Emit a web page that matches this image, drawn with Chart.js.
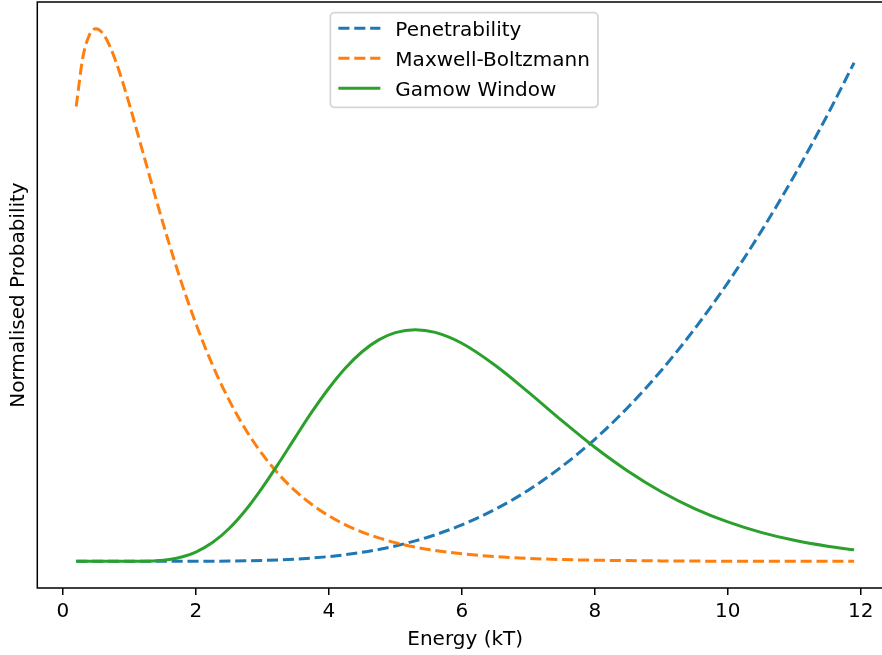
<!DOCTYPE html>
<html>
<head>
<meta charset="utf-8">
<title>Gamow Window</title>
<script src="https://cdn.jsdelivr.net/npm/chart.js@4"></script>
<style>
    html, body { margin: 0; padding: 0; background: #fff; overflow: hidden; }
    canvas { display: block; }
</style>
</head>
<body>
<canvas id="gamowChart" width="901" height="655"></canvas>
<script>
// Energy grid (kT) and the three normalised curves sampled on it
const energy = [0.2, 0.3, 0.4, 0.5, 0.6, 0.7, 0.8, 0.9, 1.0, 1.2, 1.4, 1.6, 1.8, 2.0, 2.25, 2.5, 2.75,
    3.0, 3.25, 3.5, 3.75, 4.0, 4.25, 4.5, 4.75, 5.0, 5.3, 5.6, 6.0, 6.5, 7.0, 7.5, 8.0, 8.5, 9.0, 9.5,
    10.0, 10.5, 11.0, 11.5, 11.9];

const penetrability = [0, 0, 0, 0, 0, 0, 0, 0, 0, 0, 0.000003, 0.000015, 0.00004, 0.000093, 0.000227,
    0.000483, 0.000925, 0.00163, 0.00269, 0.0042, 0.00627, 0.00901, 0.01252, 0.01695, 0.0224, 0.02895,
    0.03844, 0.04983, 0.0685, 0.0976, 0.1336, 0.1776, 0.2292, 0.2894, 0.3584, 0.4362, 0.5229, 0.6189,
    0.724, 0.8383, 0.936];

const maxwellBoltzmann = [0.8538, 0.9461, 0.9885, 1.0, 0.9912, 0.9687, 0.9371, 0.8993, 0.8578, 0.7693,
    0.6804, 0.5955, 0.5171, 0.4463, 0.3686, 0.3026, 0.2472, 0.2011, 0.163, 0.1317, 0.1062, 0.0854,
    0.0686, 0.055, 0.044, 0.0351, 0.0268, 0.0204, 0.0142, 0.0089, 0.0056, 0.0035, 0.0022, 0.0014,
    0.0009, 0.0005, 0.0003, 0.0002, 0.0001, 0.0001, 0.0001];

const gamowWindow = [0, 0, 0, 0, 0, 0, 0, 0, 0.00005, 0.00032, 0.00126, 0.00369, 0.00869, 0.01747,
    0.03528, 0.0617, 0.0965, 0.1385, 0.1851, 0.2338, 0.2814, 0.325, 0.363, 0.3935, 0.4157, 0.4294,
    0.435, 0.4298, 0.4094, 0.3681, 0.3177, 0.2647, 0.2142, 0.1692, 0.1307, 0.0991, 0.074, 0.0544,
    0.0395, 0.0284, 0.0216];

const xTicks = [0, 2, 4, 6, 8, 10, 12];

const FONT = 'DejaVu Sans';
const DASH = [11.1, 4.8];

function toPoints(values) {
    return energy.map((e, i) => ({ x: e, y: values[i] }));
}

// Left, top and bottom spines of the plot area
const frame = {
    id: 'frame',
    afterDatasetsDraw(chart) {
        const { ctx, chartArea: a } = chart;
        ctx.save();
        ctx.strokeStyle = '#000';
        ctx.lineWidth = 1.5;
        ctx.beginPath();
        ctx.moveTo(a.right + 2, a.top);
        ctx.lineTo(a.left, a.top);
        ctx.lineTo(a.left, a.bottom);
        ctx.lineTo(a.right + 2, a.bottom);
        ctx.stroke();
        ctx.restore();
    }
};

// Boxed legend at the upper centre of the plot
const legendBox = {
    id: 'legendBox',
    afterDraw(chart) {
        const { ctx, chartArea: a } = chart;
        const sets = chart.data.datasets;
        ctx.save();
        ctx.font = `20px "${FONT}"`;
        const textW = Math.max(...sets.map(d => ctx.measureText(d.label).width));
        const pad = 8, handle = 42, gap = 15, row = 30;
        const w = pad + handle + gap + textW + pad;
        const h = 94.6;
        const x0 = (a.left + a.right) / 2 - w / 2 - 1;
        const y0 = a.top + 10.7;

        ctx.beginPath();
        ctx.roundRect(x0, y0, w, h, 4);
        ctx.fillStyle = 'rgba(255,255,255,0.8)';
        ctx.fill();
        ctx.strokeStyle = '#d6d6d6';
        ctx.lineWidth = 1.8;
        ctx.stroke();

        sets.forEach((d, i) => {
            const y = y0 + 15.6 + i * row;
            ctx.beginPath();
            ctx.setLineDash(d.borderDash || []);
            ctx.strokeStyle = d.borderColor;
            ctx.lineWidth = d.borderWidth;
            ctx.lineCap = 'butt';
            ctx.moveTo(x0 + pad, y);
            ctx.lineTo(x0 + pad + handle, y);
            ctx.stroke();
            ctx.setLineDash([]);
            ctx.fillStyle = '#000';
            ctx.textBaseline = 'alphabetic';
            ctx.fillText(d.label, x0 + pad + handle + gap, y + 7.4);
        });
        ctx.restore();
    }
};

const ctx = document.getElementById('gamowChart').getContext('2d');
new Chart(ctx, {
    type: 'line',
    data: {
        datasets: [
            {
                label: 'Penetrability',
                data: toPoints(penetrability),
                borderColor: '#1f77b4',
                borderWidth: 3,
                borderDash: DASH,
                order: 3
            },
            {
                label: 'Maxwell-Boltzmann',
                data: toPoints(maxwellBoltzmann),
                borderColor: '#ff7f0e',
                borderWidth: 3,
                borderDash: DASH,
                order: 2
            },
            {
                label: 'Gamow Window',
                data: toPoints(gamowWindow),
                borderColor: '#2ca02c',
                borderWidth: 3,
                order: 1
            }
        ]
    },
    options: {
        responsive: false,
        devicePixelRatio: 1,
        animation: false,
        events: [],
        layout: {
            padding: { top: 2, right: 8, bottom: 0, left: 0 }
        },
        elements: {
            point: { radius: 0 },
            line: { cubicInterpolationMode: 'monotone', fill: false }
        },
        plugins: {
            legend: { display: false },
            tooltip: { enabled: false }
        },
        scales: {
            x: {
                type: 'linear',
                min: -0.385,
                max: 12.485,
                afterBuildTicks: scale => {
                    scale.ticks = xTicks.map(v => ({ value: v }));
                },
                afterFit: scale => { scale.height = 67; },
                grid: {
                    display: true,
                    drawOnChartArea: false,
                    drawTicks: true,
                    tickLength: 7,
                    color: '#000',
                    lineWidth: 1.5
                },
                border: { display: false },
                ticks: {
                    color: '#000',
                    padding: 5,
                    maxRotation: 0,
                    autoSkip: false,
                    font: { family: FONT, size: 20 }
                },
                title: {
                    display: true,
                    text: 'Energy (kT)',
                    color: '#000',
                    font: { family: FONT, size: 20 },
                    padding: { top: 0, bottom: 3 }
                }
            },
            y: {
                min: -0.05,
                max: 1.05,
                afterFit: scale => { scale.width = 37.3; },
                grid: { display: false, drawTicks: false },
                border: { display: false },
                ticks: { display: false },
                title: {
                    display: true,
                    text: 'Normalised Probability',
                    color: '#000',
                    font: { family: FONT, size: 20 },
                    padding: { top: 6.3, bottom: 0 }
                }
            }
        }
    },
    plugins: [frame, legendBox]
});
</script>
</body>
</html>
